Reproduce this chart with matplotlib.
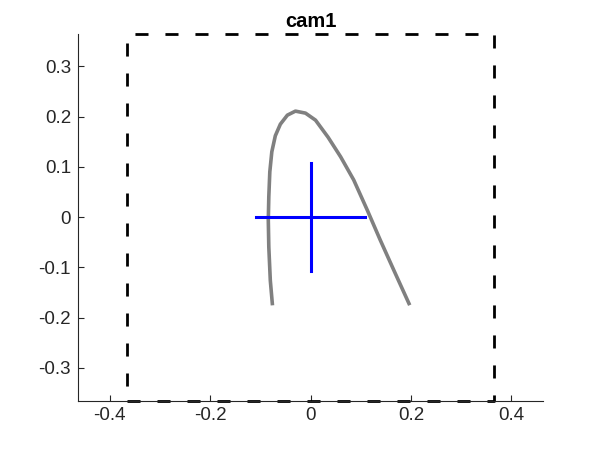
import matplotlib
matplotlib.use("Agg")
import matplotlib.pyplot as plt
import numpy as np

plt.rcParams['font.family'] = ['Liberation Sans', 'DejaVu Sans']

# trajectory (bottom-left end to bottom-right end)
traj_x = [-0.076, -0.080, -0.083, -0.084, -0.083, -0.081, -0.077, -0.070, -0.060,
          -0.046, -0.030, -0.010, 0.010, 0.035, 0.060, 0.086, 0.113, 0.139,
          0.166, 0.196]
traj_y = [-0.172, -0.126, -0.059, -0.006, 0.040, 0.090, 0.130, 0.162, 0.185,
          0.203, 0.211, 0.207, 0.193, 0.159, 0.120, 0.074, 0.014, -0.046,
          -0.106, -0.172]

# camera frame (dashed box) and cross
box_half = 0.365
cross_half = 0.108
title = "cam1"
xticks = [-0.4, -0.2, 0, 0.2, 0.4]
yticks = [-0.3, -0.2, -0.1, 0, 0.1, 0.2, 0.3]

fig = plt.figure(figsize=(6, 4.5), dpi=100)
ax = fig.add_axes([0.13, 0.11, 0.775, 0.815])

ax.plot(traj_x, traj_y, color='black', lw=1.2)
ax.plot(traj_x, traj_y, color=(0.5, 0.5, 0.5), lw=2.6)

bx = [-box_half, box_half, box_half, -box_half, -box_half]
by = [-box_half, -box_half, box_half, box_half, -box_half]
ax.plot(bx, by, color='black', lw=2, dashes=(4.7, 6.1), clip_on=False)

ax.plot([-cross_half, cross_half], [0, 0], color='blue', lw=2.2)
ax.plot([0, 0], [-cross_half, cross_half], color='blue', lw=2.2)

ylim = box_half
xlim = ylim * (0.775 * 6) / (0.815 * 4.5)
ax.set_xlim(-xlim, xlim)
ax.set_ylim(-ylim, ylim)
ax.set_xticks(xticks)
ax.set_xticklabels(['-0.4', '-0.2', '0', '0.2', '0.4'])
ax.set_yticks(yticks)
ax.set_yticklabels(['-0.3', '-0.2', '-0.1', '0', '0.1', '0.2', '0.3'])

ax.spines['top'].set_visible(False)
ax.spines['right'].set_visible(False)
for s in ['left', 'bottom']:
    ax.spines[s].set_color((0.15, 0.15, 0.15))
    ax.spines[s].set_linewidth(0.8)
ax.tick_params(direction='in', length=4, width=0.8, colors=(0.15, 0.15, 0.15),
               labelsize=13.5, pad=5)
ax.set_title(title, fontsize=14.5, fontweight='bold', pad=5)

fig.savefig('out.png', dpi=100)
